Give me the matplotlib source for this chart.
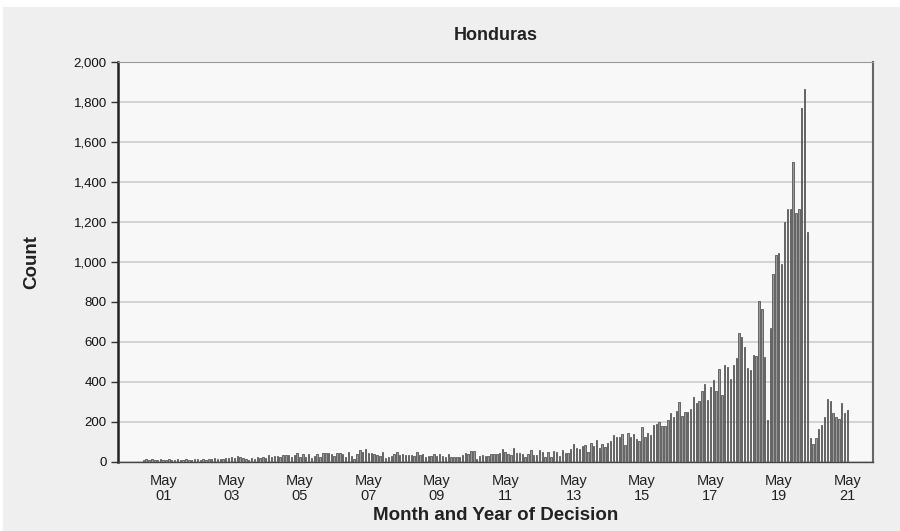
import matplotlib
matplotlib.use("Agg")
import matplotlib.pyplot as plt
import matplotlib.dates as mdates
from matplotlib.patches import Rectangle
import pandas as pd

plt.rcParams['font.family'] = ['Liberation Sans', 'DejaVu Sans']

title = "Honduras"
x_label = "Month and Year of Decision"
y_label = "Count"

start_month = "2000-10-01"
counts = (
    [12, 15, 8, 13, 10, 12, 15, 10, 9, 14, 12, 8, 13, 11, 10, 15, 12, 9, 13, 14,
     11, 15, 12, 16, 13, 18, 14, 17, 15, 20, 18, 25, 22, 30, 27, 20]
    + [15, 12, 20, 17, 23, 20, 25, 18, 33, 23, 30, 30, 23, 33, 35, 35, 25, 33, 45, 23,
       38, 23, 38, 22, 30, 38, 27, 45, 45, 45, 38, 32, 45, 45, 42, 27, 48, 32]
    + [17, 38, 60, 52, 63, 43, 43, 40, 35, 32, 52, 20, 23, 28, 38, 48, 37, 40, 35, 35,
       33, 30, 52, 35, 38, 25, 28, 28, 40, 32, 42, 32, 23, 38, 23, 23, 23]
    + [23, 37, 47, 38, 53, 53, 15, 30, 35, 32, 32, 40, 42, 42, 43, 63, 50, 38, 33, 68,
       45, 45, 38, 27, 38, 58, 37, 33, 58, 50, 27, 48, 27, 53, 50, 28, 58, 47]
    + [43, 63, 90, 70, 67, 80, 87, 50, 93, 80, 110, 70, 90, 77, 93, 103, 133, 123, 123, 140,
       87, 147, 123, 140, 117, 103, 173, 123, 147, 133, 187, 190, 200, 180, 180, 210, 247]
    + [223, 257, 300, 230, 250, 250]
    + [267, 323, 293, 303, 357, 390, 310, 373, 410, 353, 463, 333, 483, 473, 413, 487,
       520, 643, 623, 573, 470, 460, 533, 530, 803, 767, 527, 210, 670, 940, 1033, 1047,
       990, 1200, 1263, 1263, 1500, 1243, 1267, 1770, 1863, 1150, 120, 90, 120, 163,
       187, 223, 313, 303, 247, 227, 213, 293, 247, 260]
)
months = pd.date_range(start_month, periods=len(counts), freq="MS")

tick_dates = pd.date_range("2001-05-01", "2021-05-01", freq="24MS")
tick_labels = [d.strftime("%b\n%y") for d in tick_dates]
y_ticks = list(range(0, 2001, 200))

fig = plt.figure(figsize=(9, 5.31), dpi=100, facecolor="#efefef")
fig.patches.append(Rectangle((0, 1 - 7 / 531), 1, 7 / 531, transform=fig.transFigure,
                             facecolor="white", edgecolor="none", zorder=0))
fig.patches.append(Rectangle((0, 0), 3 / 900, 1, transform=fig.transFigure,
                             facecolor="white", edgecolor="none", zorder=0))

ax = fig.add_axes([118 / 900, 69 / 531, 755 / 900, 400 / 531])
ax.set_facecolor("#f8f8f8")

ax.bar(months, counts, width=15, align="center", facecolor="#9a9a9a",
       edgecolor="#555555", linewidth=0.6, zorder=3)

ax.set_ylim(0, 2000)
ax.set_xlim(pd.Timestamp("2000-01-05"), pd.Timestamp("2022-01-31"))
ax.set_yticks(y_ticks)
ax.set_yticklabels([f"{v:,}" for v in y_ticks], fontsize=9.5, color="#111111")
ax.set_xticks(tick_dates)
ax.set_xticklabels(tick_labels, fontsize=10.5, color="#222222", linespacing=1.0)
ax.tick_params(axis="x", length=0, pad=9)
ax.tick_params(axis="y", length=5, width=1, color="#333333", pad=3)

ax.grid(axis="y", color="#cdcdcd", linewidth=1.2, zorder=0)
ax.set_axisbelow(True)

ax.spines["left"].set_color("#222222")
ax.spines["left"].set_linewidth(1.8)
ax.spines["bottom"].set_color("#444444")
ax.spines["bottom"].set_linewidth(1.0)
ax.spines["right"].set_color("#666666")
ax.spines["right"].set_linewidth(1.5)
ax.spines["top"].set_color("#999999")
ax.spines["top"].set_linewidth(0.8)

ax.set_title(title, fontsize=13, fontweight="bold", color="#222222", pad=16)
ax.set_xlabel(x_label, fontsize=13.5, fontweight="bold", color="#222222", labelpad=3)
ax.set_ylabel(y_label, fontsize=13.5, fontweight="bold", color="#222222", labelpad=24)

fig.savefig("out.png", dpi=100, facecolor=fig.get_facecolor())
